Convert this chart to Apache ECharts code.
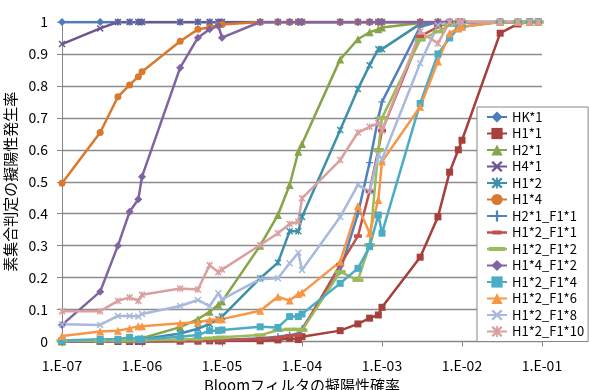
<!DOCTYPE html>
<html>
<head>
<meta charset="utf-8">
<script src="https://cdn.jsdelivr.net/npm/echarts@6/dist/echarts.min.js"></script>
<style>
html,body{margin:0;padding:0;background:#fff;}
#c{width:589px;height:390px;}
</style>
</head>
<body>
<div id="c"></div>
<script>
const xs = [1e-7,3e-7,5e-7,7e-7,9e-7,1e-6,3e-6,5e-6,7e-6,9e-6,1e-5,3e-5,5e-5,7e-5,9e-5,1e-4,3e-4,5e-4,7e-4,9e-4,1e-3,3e-3,5e-3,7e-3,9e-3,1e-2,3e-2,5e-2,7e-2,9e-2];
const xTicks = ['1.E-07','1.E-06','1.E-05','1.E-04','1.E-03','1.E-02','1.E-01'];
const yTicks = ['0','0.1','0.2','0.3','0.4','0.5','0.6','0.7','0.8','0.9','1'];

const HK_1 = [1,1,1,1,1,1,1,1,1,1,1,1,1,1,1,1,1,1,1,1,1,1,1,1,1,1,1,1,1,1];
const H1_1 = [0,0,0,0,0,0,0.001,0.001,0.002,0.002,0.002,0.002,0.005,0.01,0.006,0.015,0.034,0.055,0.073,0.083,0.107,0.264,0.39,0.53,0.60,0.63,0.965,0.994,1,1];
const H2_1 = [0,0.003,0.005,0.006,0.008,0.01,0.045,0.07,0.093,0.115,0.125,0.30,0.396,0.49,0.594,0.618,0.883,0.946,0.968,0.977,0.983,0.997,1,1,1,1,1,1,1,1];
const H4_1 = [0.931,0.98,1,1,1,1,1,1,1,1,1,1,1,1,1,1,1,1,1,1,1,1,1,1,1,1,1,1,1,1];
const H1_2 = [0,0.002,0.004,0.005,0.006,0.007,0.025,0.04,0.055,0.07,0.078,0.198,0.247,0.345,0.345,0.39,0.662,0.79,0.865,0.915,0.915,0.994,1,1,1,1,1,1,1,1];
const H1_4 = [0.495,0.654,0.766,0.803,0.829,0.844,0.94,0.977,0.983,0.99,0.992,1,1,1,1,1,1,1,1,1,1,1,1,1,1,1,1,1,1,1];
const H2_1_F1_1 = [0,0,0,0,0,0,0.002,0.003,0.004,0.005,0.005,0.01,0.015,0.02,0.025,0.04,0.22,0.40,0.56,0.70,0.75,0.985,1,1,1,1,1,1,1,1];
const H1_2_F1_1 = [0,0,0,0,0,0,0.001,0.002,0.003,0.004,0.004,0.008,0.012,0.018,0.02,0.035,0.24,0.33,0.47,0.60,0.66,0.955,0.985,1,1,1,1,1,1,1];
const H1_2_F1_2 = [0.002,0.002,0.003,0.003,0.003,0.004,0.006,0.008,0.01,0.012,0.013,0.02,0.035,0.038,0.038,0.035,0.218,0.192,0.302,0.60,0.70,0.944,0.97,0.99,1,1,1,1,1,1];
const H1_4_F1_2 = [0.052,0.156,0.30,0.406,0.445,0.516,0.857,0.951,0.977,0.988,0.951,1,1,1,1,1,1,1,1,1,1,1,1,1,1,1,1,1,1,1];
const H1_2_F1_4 = [0.003,0.007,0.007,0.013,0.007,0.007,0.015,0.02,0.034,0.034,0.036,0.046,0.044,0.078,0.078,0.086,0.182,0.229,0.297,0.396,0.339,0.745,0.90,0.95,0.98,0.985,1,1,1,1];
const H1_2_F1_6 = [0.017,0.031,0.034,0.041,0.048,0.048,0.057,0.06,0.067,0.07,0.07,0.096,0.14,0.128,0.149,0.153,0.25,0.424,0.339,0.443,0.563,0.735,0.876,0.965,0.98,0.985,1,1,1,1];
const H1_2_F1_8 = [0.054,0.052,0.08,0.08,0.078,0.086,0.111,0.13,0.111,0.151,0.132,0.195,0.198,0.245,0.278,0.224,0.39,0.49,0.469,0.584,0.57,0.871,0.99,1,1,1,1,1,1,1];
const H1_2_F1_10 = [0.095,0.095,0.127,0.138,0.127,0.146,0.166,0.163,0.239,0.217,0.225,0.302,0.339,0.368,0.375,0.448,0.568,0.654,0.672,0.683,0.66,0.97,0.933,1,1,1,1,1,1,1];

const names = ['HK*1','H1*1','H2*1','H4*1','H1*2','H1*4','H2*1_F1*1','H1*2_F1*1','H1*2_F1*2','H1*4_F1*2','H1*2_F1*4','H1*2_F1*6','H1*2_F1*8','H1*2_F1*10'];
const values = [HK_1,H1_1,H2_1,H4_1,H1_2,H1_4,H2_1_F1_1,H1_2_F1_1,H1_2_F1_2,H1_4_F1_2,H1_2_F1_4,H1_2_F1_6,H1_2_F1_8,H1_2_F1_10];

const X_PATH = 'path://M0,1.5L1.5,0L5,3.5L8.5,0L10,1.5L6.5,5L10,8.5L8.5,10L5,6.5L1.5,10L0,8.5L3.5,5Z';
const STAR_PATH = X_PATH + 'M4.2,0L5.8,0L5.8,10L4.2,10Z';
const PLUS_PATH = 'path://M4,0H6V4H10V6H6V10H4V6H0V4H4Z';
const DASH_PATH = 'path://M0,0H10V3H0Z';
// legend icons for the dash-marked series: line with a thicker middle part (20x14 box)
const DASH_ICON = 'path://M0,0L0.01,0L0,0.01Z M0,14L0.01,14L0,13.99Z M20,0L19.99,0L20,0.01Z M0,5.8H20V8.2H0Z M5.5,5H14.5V9H5.5Z';
const LONGDASH_ICON = 'path://M0,0L0.01,0L0,0.01Z M0,14L0.01,14L0,13.99Z M20,0L19.99,0L20,0.01Z M0,5.8H20V8.2H0Z M2,5H18V9H2Z';

const styles = [
  {color:'#4A7DBA', symbol:'diamond', size:8},
  {color:'#A5403D', symbol:'rect', size:7},
  {color:'#86A44A', symbol:'triangle', size:8},
  {color:'#6E5490', symbol:X_PATH, size:7},
  {color:'#3C91A9', symbol:STAR_PATH, size:7},
  {color:'#D8792E', symbol:'circle', size:7},
  {color:'#4F81BD', symbol:PLUS_PATH, size:7},
  {color:'#C0504D', symbol:DASH_PATH, size:[8,3.5], icon: DASH_ICON},
  {color:'#9BBB59', symbol:DASH_PATH, size:[11,3.5], icon: LONGDASH_ICON},
  {color:'#8064A2', symbol:'diamond', size:8},
  {color:'#4BACC6', symbol:'rect', size:7},
  {color:'#F79646', symbol:'triangle', size:8},
  {color:'#A7B9DD', symbol:X_PATH, size:7},
  {color:'#D9A09F', symbol:STAR_PATH, size:7}
];

const series = names.map((n, i) => ({
  name: n,
  type: 'line',
  data: xs.map((x, j) => [x, values[i][j]]),
  symbol: styles[i].symbol,
  symbolSize: styles[i].size,
  symbolKeepAspect: false,
  showAllSymbol: true,
  lineStyle: {color: styles[i].color, width: 2.5},
  itemStyle: {color: styles[i].color, borderWidth: 0},
  emphasis: {disabled: true}
}));

const legendData = names.map((n, i) => styles[i].icon ? {name: n, icon: styles[i].icon, itemStyle: {color: styles[i].color}} : {name: n});

const FONT = '"Noto Sans CJK JP", "Noto Sans", sans-serif';

const chart = echarts.init(document.getElementById('c'), null, {renderer: 'canvas'});
chart.setOption({
  animation: false,
  backgroundColor: '#ffffff',
  textStyle: {fontFamily: FONT},
  grid: {left: 62, right: 47, top: 22, bottom: 48.5, containLabel: false, outerBoundsMode: 'none'},
  xAxis: {
    type: 'log',
    logBase: 10,
    min: 1e-7,
    max: 1e-1,
    name: 'Bloomフィルタの擬陽性確率',
    nameLocation: 'middle',
    nameGap: 34,
    nameTextStyle: {fontSize: 15, color: '#000', fontFamily: FONT},
    axisLine: {lineStyle: {color: '#868686', width: 1}},
    axisTick: {show: true, inside: false, length: 5, lineStyle: {color: '#868686'}},
    splitLine: {show: false},
    minorTick: {show: false},
    axisLabel: {
      fontSize: 14, color: '#000', margin: 17, fontFamily: FONT,
      formatter: function (v) {
        const e = Math.round(Math.log10(v));
        const idx = e + 7;
        return xTicks[idx] !== undefined ? xTicks[idx] : '';
      }
    }
  },
  yAxis: {
    type: 'value',
    min: 0,
    max: 1,
    interval: 0.1,
    name: '素集合判定の擬陽性発生率',
    nameLocation: 'middle',
    nameRotate: 90,
    nameGap: 39,
    nameTextStyle: {fontSize: 15, color: '#000', fontFamily: FONT},
    axisLine: {show: true, lineStyle: {color: '#868686', width: 1}},
    axisTick: {show: true, inside: false, length: 5, lineStyle: {color: '#868686'}},
    splitLine: {show: true, lineStyle: {color: '#8C8C8C', width: 1.3}},
    axisLabel: {
      fontSize: 14, color: '#000', margin: 14, fontFamily: FONT,
      formatter: function (v) {
        const k = Math.round(v * 10);
        return yTicks[k] !== undefined ? yTicks[k] : '';
      }
    }
  },
  legend: {
    orient: 'vertical',
    left: 477,
    top: 107,
    data: legendData,
    itemWidth: 20,
    itemHeight: 14,
    itemGap: 2.5,
    padding: [3, 4, 3, 9],
    borderColor: '#868686',
    borderWidth: 1,
    backgroundColor: '#ffffff',
    selectedMode: false,
    textStyle: {fontSize: 13, color: '#000', lineHeight: 14, fontFamily: FONT}
  },
  series: series
});
</script>
</body>
</html>
